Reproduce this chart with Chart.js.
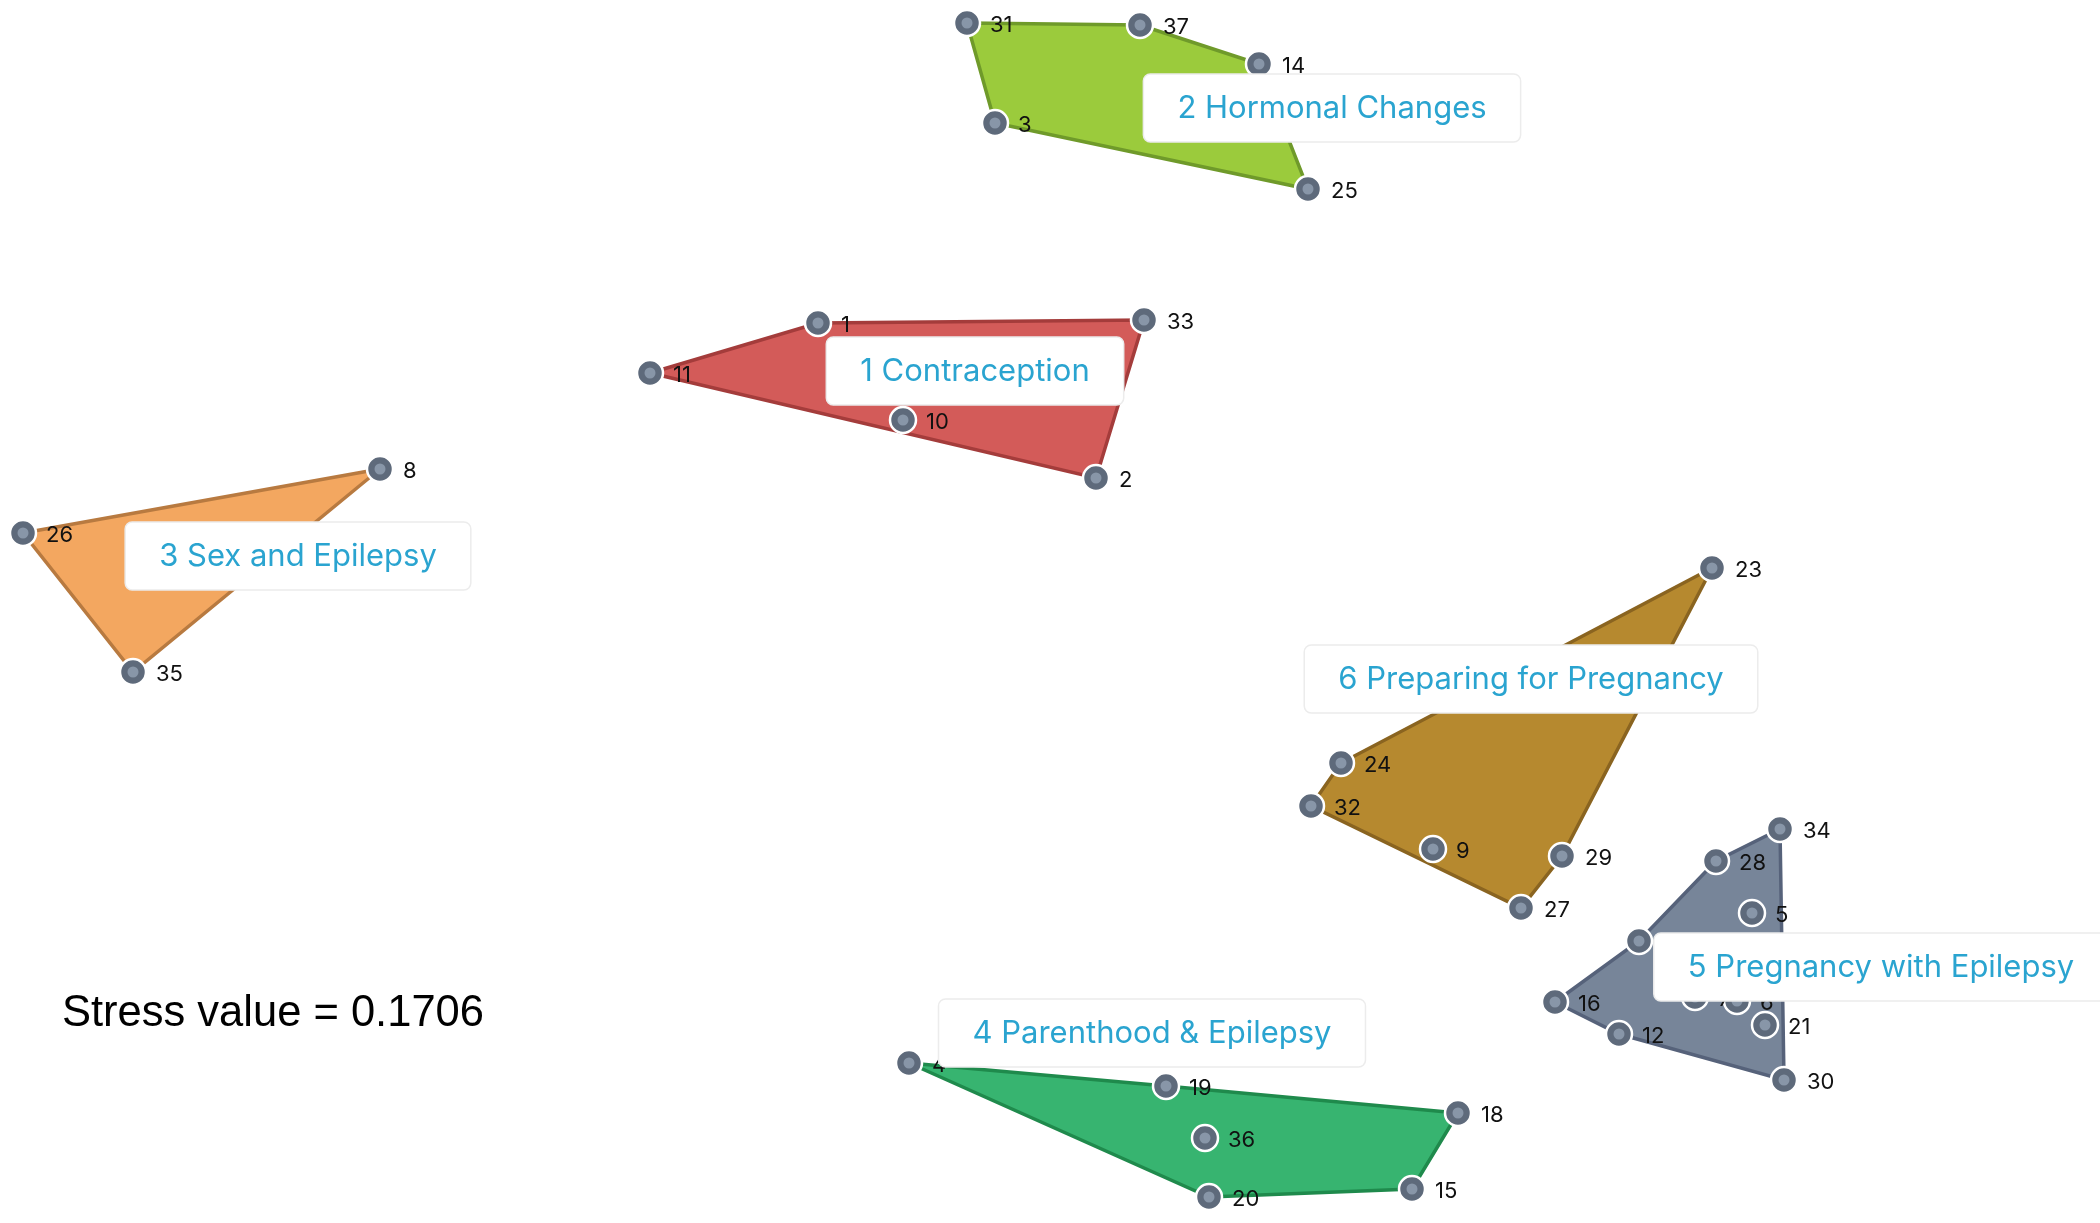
<!DOCTYPE html>
<html>
<head>
<meta charset="utf-8">
<script src="https://cdn.jsdelivr.net/npm/chart.js@4/dist/chart.umd.min.js"></script>
<style>
    html, body { margin: 0; padding: 0; background: #fff; }
    #wrap { width: 2100px; height: 1223px; position: relative; }
</style>
</head>
<body>
<div id="wrap"><canvas id="chart"></canvas></div>
<script>
// statement ids and MDS positions per cluster (plot units)
const c1Ids = [1, 33, 11, 10, 2];
const c1X = [818, 1144, 650, 903, 1096];
const c1Y = [323, 320, 373, 420, 478];
const c1Hull = [11, 1, 33, 2];

const c2Ids = [31, 37, 14, 3, 25];
const c2X = [967, 1140, 1259, 995, 1308];
const c2Y = [23, 25, 64, 123, 189];
const c2Hull = [31, 37, 14, 25, 3];

const c3Ids = [8, 26, 35];
const c3X = [380, 23, 133];
const c3Y = [469, 533, 672];
const c3Hull = [8, 26, 35];

const c4Ids = [4, 19, 18, 36, 20, 15];
const c4X = [909, 1166, 1458, 1205, 1209, 1412];
const c4Y = [1063, 1086, 1113, 1138, 1197, 1189];
const c4Hull = [4, 19, 18, 15, 20];

const c5Ids = [34, 28, 5, 13, 16, 12, 7, 6, 21, 30];
const c5X = [1780, 1716, 1752, 1639, 1555, 1619, 1695, 1737, 1765, 1784];
const c5Y = [829, 861, 913, 941, 1002, 1034, 997, 1001, 1025, 1080];
const c5Hull = [34, 30, 12, 16, 13, 28];

const c6Ids = [23, 24, 32, 9, 29, 27];
const c6X = [1712, 1341, 1311, 1433, 1562, 1521];
const c6Y = [568, 763, 806, 849, 856, 908];
const c6Hull = [23, 24, 32, 27, 29];

const clusterNames = ['1 Contraception', '2 Hormonal Changes', '3 Sex and Epilepsy',
    '4 Parenthood & Epilepsy', '5 Pregnancy with Epilepsy', '6 Preparing for Pregnancy'];
const clusterLabelX = [975, 1332, 298, 1152, 1881, 1531];
const clusterLabelY = [371, 108, 556, 1033, 967, 679];

const fillColors = ['#d35b59', '#9bcb3c', '#f3a760', '#37b470', '#778599', '#b6892f'];
const edgeColors = ['#a43c3b', '#6f9a2a', '#b87a40', '#1f8a4c', '#56627a', '#8a6420'];

const stressText = 'Stress value = 0.1706';

const clusters = [
    [c1Ids, c1X, c1Y, c1Hull],
    [c2Ids, c2X, c2Y, c2Hull],
    [c3Ids, c3X, c3Y, c3Hull],
    [c4Ids, c4X, c4Y, c4Hull],
    [c5Ids, c5X, c5Y, c5Hull],
    [c6Ids, c6X, c6Y, c6Hull]
];

function toPoints(ids, xs, ys) {
    return ids.map((id, i) => ({ x: xs[i], y: ys[i], id: id }));
}

function hullPoints(ids, xs, ys, hull) {
    const pts = hull.map(h => {
        const i = ids.indexOf(h);
        return { x: xs[i], y: ys[i] };
    });
    pts.push(pts[0]);
    return pts;
}

const datasets = [];

clusters.forEach((c, k) => {
    datasets.push({
        data: hullPoints(c[0], c[1], c[2], c[3]),
        showLine: true,
        fill: 'shape',
        backgroundColor: fillColors[k],
        borderColor: edgeColors[k],
        borderWidth: 3.5,
        tension: 0,
        pointRadius: 0,
        order: 3
    });
});

const allPoints = [];
clusters.forEach(c => allPoints.push(...toPoints(c[0], c[1], c[2])));

datasets.push({
    data: allPoints,
    pointRadius: 13,
    backgroundColor: '#5e6a7b',
    borderColor: '#ffffff',
    borderWidth: 2.5,
    order: 2
});
datasets.push({
    data: allPoints,
    pointRadius: 5.5,
    backgroundColor: '#8896a8',
    borderWidth: 0,
    order: 1
});

// numbers beside points, cluster name boxes, stress note
const labelPlugin = {
    id: 'labels',
    afterDatasetsDraw(chart) {
        const ctx = chart.ctx;
        const xs = chart.scales.x, ys = chart.scales.y;
        const meta = chart.getDatasetMeta(clusters.length);

        ctx.save();
        ctx.font = '22px Inter, "Noto Sans", sans-serif';
        ctx.fillStyle = '#111';
        ctx.textAlign = 'left';
        ctx.textBaseline = 'middle';
        meta.data.forEach((el, i) => {
            ctx.fillText(String(allPoints[i].id), el.x + 23, el.y + 2);
        });

        ctx.font = '31px Inter, "Noto Sans", sans-serif';
        clusterNames.forEach((name, i) => {
            const cx = xs.getPixelForValue(clusterLabelX[i]);
            const cy = ys.getPixelForValue(clusterLabelY[i]);
            const w = ctx.measureText(name).width + 68;
            const h = 68;
            ctx.beginPath();
            ctx.roundRect(cx - w / 2, cy - h / 2, w, h, 7);
            ctx.fillStyle = '#ffffff';
            ctx.fill();
            ctx.strokeStyle = '#ececec';
            ctx.lineWidth = 1.5;
            ctx.stroke();
            ctx.fillStyle = '#2aa4d0';
            ctx.textAlign = 'center';
            ctx.textBaseline = 'middle';
            ctx.fillText(name, cx, cy + 1);
        });

        ctx.font = '43.5px "Liberation Sans", Arial, sans-serif';
        ctx.fillStyle = '#000';
        ctx.textAlign = 'left';
        ctx.textBaseline = 'alphabetic';
        ctx.fillText(stressText, 62, 1026);
        ctx.restore();
    }
};

new Chart(document.getElementById('chart'), {
    type: 'scatter',
    data: { datasets: datasets },
    options: {
        responsive: true,
        maintainAspectRatio: false,
        animation: false,
        layout: { padding: 0, autoPadding: false },
        scales: {
            x: { display: false, min: 0, max: 2100 },
            y: { display: false, min: 0, max: 1223, reverse: true }
        },
        plugins: {
            legend: { display: false },
            tooltip: { enabled: false }
        }
    },
    plugins: [labelPlugin]
});
</script>
</body>
</html>
